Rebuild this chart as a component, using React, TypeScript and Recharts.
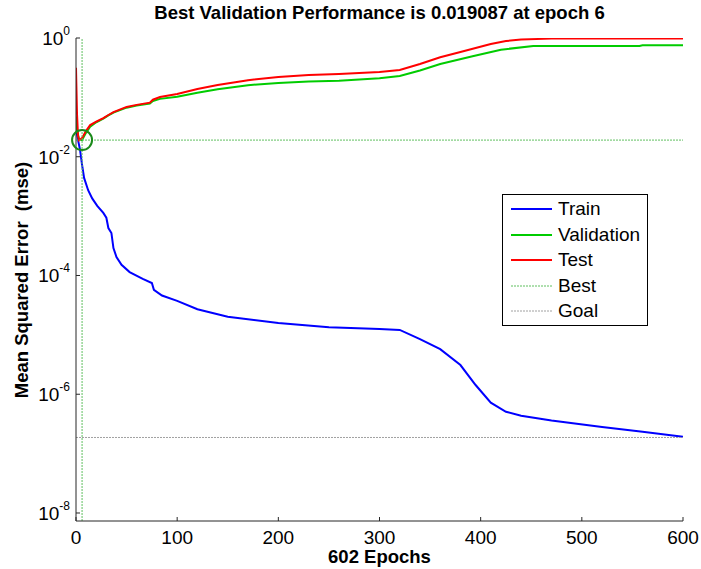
import { LineChart, Line, XAxis, YAxis, ReferenceLine, ReferenceDot } from "recharts";

// epochs and mse per series
const trainEpoch = [0, 2, 4, 6, 8, 12, 16, 21, 27, 30, 32, 35, 37, 40, 45, 53, 66, 75, 77, 85, 100, 120, 150, 200, 250, 300, 320, 340, 360, 380, 395, 410, 425, 440, 470, 520, 560, 600];
const trainMse = [0.0302, 0.0191, 0.01305, 0.0073, 0.0044, 0.00273, 0.00199, 0.00149, 0.00113, 9.4e-4, 6.3e-4, 5.2e-4, 2.89e-4, 2.05e-4, 1.51e-4, 1.14e-4, 8.8e-5, 7.46e-5, 5.72e-5, 4.6e-5, 3.73e-5, 2.7e-5, 2.02e-5, 1.59e-5, 1.35e-5, 1.26e-5, 1.21e-5, 8.5e-6, 5.76e-6, 3.1e-6, 1.43e-6, 7.2e-7, 5.07e-7, 4.34e-7, 3.62e-7, 2.82e-7, 2.34e-7, 1.92e-7];

const valEpoch = [0, 1, 3, 6, 10, 14, 20, 27, 32, 37, 50, 60, 73, 76, 83, 100, 120, 140, 170, 200, 230, 260, 300, 320, 340, 360, 392, 420, 452, 557, 560, 600];
const valMse = [0.0476, 0.0283, 0.0198, 0.019087, 0.0255, 0.0322, 0.0381, 0.0439, 0.0497, 0.0555, 0.0671, 0.0729, 0.0788, 0.0866, 0.0944, 0.1023, 0.12, 0.1376, 0.1603, 0.1751, 0.185, 0.19, 0.21, 0.2297, 0.2843, 0.364, 0.494, 0.635, 0.736, 0.736, 0.757, 0.757];

const testEpoch = [0, 1, 2, 3, 6, 10, 14, 20, 27, 32, 37, 50, 60, 73, 76, 83, 100, 120, 140, 170, 200, 230, 260, 300, 320, 340, 360, 380, 395, 410, 425, 440, 470, 600];
const testMse = [0.314, 0.0525, 0.0226, 0.019, 0.0207, 0.0274, 0.0341, 0.0389, 0.0447, 0.0505, 0.0563, 0.069, 0.0748, 0.0816, 0.0914, 0.1012, 0.114, 0.1385, 0.162, 0.195, 0.2206, 0.2384, 0.2473, 0.2673, 0.289, 0.364, 0.474, 0.581, 0.679, 0.793, 0.89, 0.939, 0.98, 0.98];

const xTicks = [0, 100, 200, 300, 400, 500, 600];
const yTicks = [1e-8, 1e-6, 1e-4, 1e-2, 1];
const yDomain = [7.33e-9, 1];

const bestEpoch = 6;
const bestPerf = 0.019087;
const goal = 1.87e-7;

const legendItems = [
  { name: "Train", color: "#0000ff", width: 2, dash: undefined },
  { name: "Validation", color: "#00cc00", width: 2, dash: undefined },
  { name: "Test", color: "#ff0000", width: 2, dash: undefined },
  { name: "Best", color: "#5fbf5f", width: 1, dash: "2 1" },
  { name: "Goal", color: "#a0a0a0", width: 1, dash: "2 1" },
];

const toRows = (ep: number[], v: number[]) => ep.map((e, i) => ({ epoch: e, mse: v[i] }));
const trainData = toRows(trainEpoch, trainMse);
const valData = toRows(valEpoch, valMse);
const testData = toRows(testEpoch, testMse);

const W = 701;
const H = 569;
const LEFT = 76;
const RIGHT = 683;
const TOP = 38;
const BOTTOM = 521;
const FONT = '"Liberation Sans", Arial, Helvetica, sans-serif';

const YTick = (props: any) => {
  const { y, payload } = props;
  const exp = Math.round(Math.log10(payload.value));
  return (
    <g>
      <line x1={LEFT} x2={LEFT + 4} y1={y} y2={y} stroke="#262626" strokeWidth={1} />
      <text x={LEFT - 6} y={y + 7} textAnchor="end" fontFamily={FONT} fontSize={19} fill="#000">
        10
        <tspan dy={-10} fontSize={12}>
          {exp}
        </tspan>
      </text>
    </g>
  );
};

const XTick = (props: any) => {
  const { x, payload } = props;
  return (
    <g>
      <line x1={x} x2={x} y1={BOTTOM} y2={BOTTOM - 4} stroke="#262626" strokeWidth={1} />
      <text x={x} y={BOTTOM + 23} textAnchor="middle" fontFamily={FONT} fontSize={19} fill="#000">
        {payload.value}
      </text>
    </g>
  );
};

export default function App() {
  return (
    <div style={{ position: "absolute", left: 0, top: 0, width: W, height: H, background: "#fff", fontFamily: FONT }}>
      <LineChart width={W} height={H} margin={{ top: TOP, right: W - RIGHT, bottom: 0, left: 0 }}>
        <XAxis
          type="number"
          dataKey="epoch"
          domain={[0, 600]}
          ticks={xTicks}
          height={H - BOTTOM}
          tickSize={0}
          tickLine={false}
          tick={<XTick />}
          axisLine={{ stroke: "#262626" }}
          allowDataOverflow
        />
        <YAxis
          type="number"
          scale="log"
          domain={yDomain}
          ticks={yTicks}
          width={LEFT}
          tickSize={0}
          tickLine={false}
          tick={<YTick />}
          axisLine={{ stroke: "#262626" }}
          allowDataOverflow
        />
        <Line data={trainData} dataKey="mse" stroke="#0000ff" strokeWidth={2} dot={false} type="linear" isAnimationActive={false} />
        <Line data={valData} dataKey="mse" stroke="#00cc00" strokeWidth={2} dot={false} type="linear" isAnimationActive={false} />
        <Line data={testData} dataKey="mse" stroke="#ff0000" strokeWidth={2} dot={false} type="linear" isAnimationActive={false} />
        <ReferenceLine y={bestPerf} stroke="#5fbf5f" strokeWidth={1} strokeDasharray="2 1" />
        <ReferenceLine x={bestEpoch} stroke="#5fbf5f" strokeWidth={1} strokeDasharray="2 1" />
        <ReferenceLine y={goal} stroke="#a0a0a0" strokeWidth={1} strokeDasharray="2 1" />
        <ReferenceDot x={bestEpoch} y={bestPerf} r={10} fill="none" stroke="#1a8a1a" strokeWidth={2} />
      </LineChart>

      <div style={{ position: "absolute", left: LEFT, width: RIGHT - LEFT, top: 3, textAlign: "center", fontWeight: "bold", fontSize: 18.5, lineHeight: "20px" }}>
        Best Validation Performance is 0.019087 at epoch 6
      </div>
      <div style={{ position: "absolute", left: LEFT, width: RIGHT - LEFT, top: 547, textAlign: "center", fontWeight: "bold", fontSize: 18.5, lineHeight: "20px" }}>
        602 Epochs
      </div>
      <div
        style={{
          position: "absolute",
          left: 22 - 150,
          top: 280 - 10,
          width: 300,
          textAlign: "center",
          fontWeight: "bold",
          fontSize: 18.5,
          lineHeight: "20px",
          transform: "rotate(-90deg)",
          whiteSpace: "pre",
        }}
      >
        {"Mean Squared Error  (mse)"}
      </div>

      <div style={{ position: "absolute", left: 502, top: 194, width: 144, height: 130, border: "1px solid #000", background: "#fff" }}>
        {legendItems.map((it, i) => (
          <div key={it.name} style={{ position: "absolute", left: 8, top: 3 + i * 25.5, height: 22, display: "flex", alignItems: "center" }}>
            <svg width={42} height={4} style={{ marginRight: 5 }}>
              <line x1={0} x2={41} y1={2} y2={2} stroke={it.color} strokeWidth={it.width} strokeDasharray={it.dash} />
            </svg>
            <span style={{ fontSize: 19, lineHeight: "22px" }}>{it.name}</span>
          </div>
        ))}
      </div>
    </div>
  );
}
